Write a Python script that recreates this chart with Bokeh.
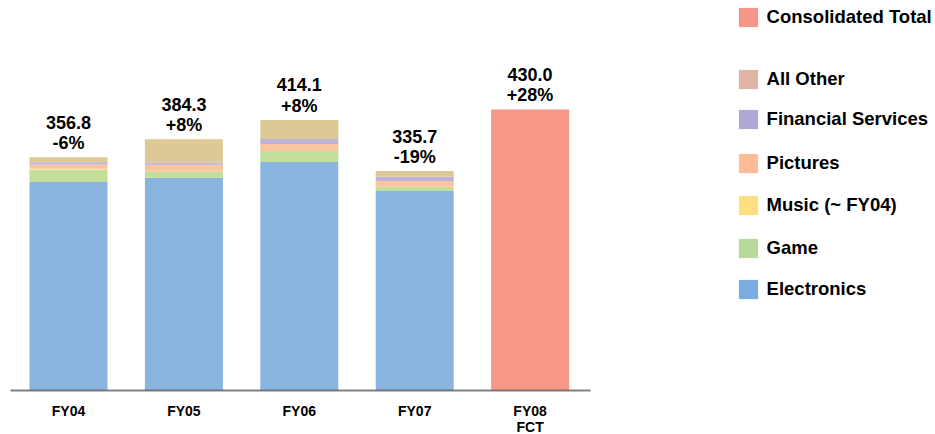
from bokeh.plotting import figure
from bokeh.models import ColumnDataSource, Range1d, Legend, LegendItem, FixedTicker, LinearAxis
from bokeh.embed import file_html
from bokeh.resources import INLINE
from bokeh.core.properties import value

# Net sales by segment (stacked), FY08 forecast shown as the consolidated total
years = ["FY04", "FY05", "FY06", "FY07", "FY08\nFCT"]
electronics = [318.9, 325.6, 349.8, 305.1, 0.0]
game = [19.0, 9.2, 16.8, 6.6, 0.0]
music = [1.5, 0.0, 0.0, 0.0, 0.0]
pictures = [6.6, 10.7, 10.7, 8.7, 0.0]
financial = [3.1, 3.1, 7.7, 6.6, 0.0]
all_other = [7.7, 35.7, 29.1, 8.7, 0.0]
consolidated = [0.0, 0.0, 0.0, 0.0, 430.0]
totals = ["356.8", "384.3", "414.1", "335.7", "430.0"]
growth = ["-6%", "+8%", "+8%", "-19%", "+28%"]

segments = ["electronics", "game", "music", "pictures", "financial", "all_other", "consolidated"]
bar_colors = ["#8AB4E0", "#C3DE9B", "#FFE08A", "#F9C49F", "#BDB2DA", "#DCC995", "#F79887"]

legend_names = ["Consolidated Total", "All Other", "Financial Services", "Pictures",
                "Music (~ FY04)", "Game", "Electronics"]
legend_colors = ["#F59686", "#E0B4A4", "#B0A8D4", "#FBBC96", "#FFDE82", "#B8DA98", "#7BAEE0"]
legend_rows = [16.5, 78.5, 119, 163, 205, 248, 289]

FONT = "Liberation Sans"
W, H = 935, 434

# horizontal layout: one year slot = 115.4 px, first bar centred at 68 px
SLOT, FIRST = 115.4, 68.0
# vertical layout: zero line 390 px from the top, 0.6535 px per unit
BASE_PX, PX_PER_UNIT = 390.0, 0.6535

xs = list(range(len(years)))
stack_top = [sum(v) for v in zip(electronics, game, music, pictures, financial, all_other, consolidated)]

source = ColumnDataSource(dict(
    x=xs, electronics=electronics, game=game, music=music, pictures=pictures,
    financial=financial, all_other=all_other, consolidated=consolidated,
    top=stack_top, totals=totals, growth=growth,
))

x0 = -FIRST / SLOT
y0 = -(H - BASE_PX) / PX_PER_UNIT
p = figure(
    x_range=Range1d(x0, x0 + W / SLOT),
    y_range=Range1d(y0, y0 + H / PX_PER_UNIT),
    width=W, height=H, min_border=0,
    x_axis_type=None, y_axis_type=None,
    output_backend="svg", toolbar_location=None,
    background_fill_color="white", border_fill_color="white",
)
p.outline_line_color = None
p.grid.visible = False

p.vbar_stack(segments, x="x", width=78 / SLOT, color=bar_colors, line_color=None, source=source)

for col, off in (("totals", -35), ("growth", -14)):
    p.text(x="x", y="top", text=col, source=source, y_offset=off,
           text_align="center", text_baseline="middle",
           text_font=value(FONT), text_font_style="bold", text_font_size="18px",
           text_color="#000000")

# category axis sitting on the zero line, spanning only the bar area
ax = LinearAxis(
    fixed_location=0,
    ticker=FixedTicker(ticks=xs),
    major_label_overrides={i: lab for i, lab in zip(xs, years)},
    bounds=((10 - FIRST) / SLOT, (590 - FIRST) / SLOT),
    axis_line_color="#606060", axis_line_alpha=0.8, axis_line_width=2,
    major_tick_line_color=None, minor_tick_line_color=None,
    major_label_standoff=6,
    major_label_text_font=FONT, major_label_text_font_style="bold",
    major_label_text_font_size="14px", major_label_text_color="#000000",
    major_label_text_line_height=1.0,
)
p.add_layout(ax, "below")

# Legend entries: zero-size swatch renderers carrying the legend colours
for name, color, cy in zip(legend_names, legend_colors, legend_rows):
    swatch = p.vbar(x=[xs[0]], top=[0], width=0, fill_color=color, line_color=None)
    leg = Legend(
        items=[LegendItem(label=name, renderers=[swatch])],
        location=(735.6, H - cy - 12),
        padding=0, margin=0, spacing=0,
        border_line_color=None, background_fill_alpha=0,
        glyph_width=24, glyph_height=24, label_standoff=7,
        label_height=24,
        label_text_font=FONT, label_text_font_style="bold",
        label_text_font_size="18.5px", label_text_color="#000000",
    )
    p.add_layout(leg, "center")

open("out.html", "w").write(file_html(p, INLINE))
